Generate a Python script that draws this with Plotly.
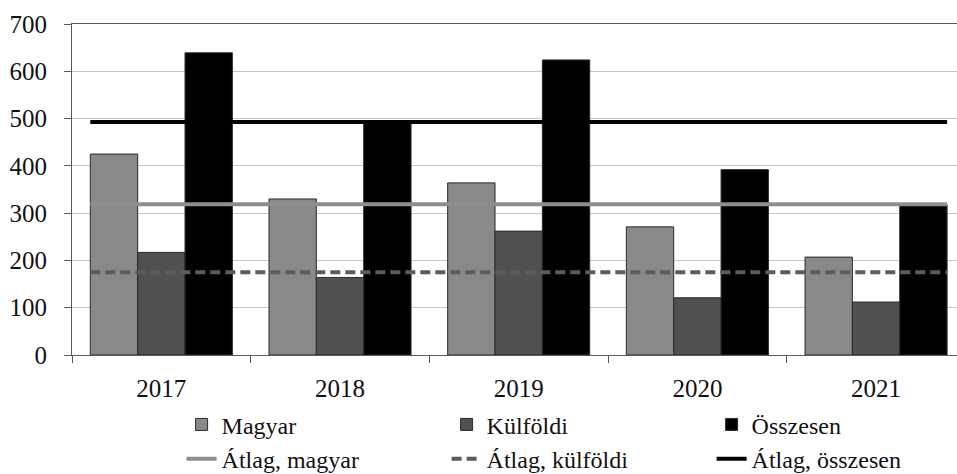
import plotly.graph_objects as go

# Yearly counts by group
years = ["2017", "2018", "2019", "2020", "2021"]
magyar = [425, 330, 364, 271, 207]
kulfoldi = [217, 164, 262, 121, 112]
osszesen = [639, 495, 624, 392, 318]

# Period averages
atlag_magyar = 319
atlag_kulfoldi = 175
atlag_osszesen = 493

y_ticks = [0, 100, 200, 300, 400, 500, 600, 700]

FONT = "Liberation Serif, DejaVu Serif, Times New Roman, serif"
BARGAP = 0.205
AXIS_COLOR = "#5a5a5a"

fig = go.Figure()

bar_series = [
    ("Magyar", magyar, "#898989"),
    ("Külföldi", kulfoldi, "#505050"),
    ("Összesen", osszesen, "#000000"),
]
for name, vals, color in bar_series:
    fig.add_trace(go.Bar(
        x=years, y=vals, name=name,
        marker=dict(color=color, line=dict(color="#2a2a2a", width=1)),
    ))

# Average lines span the full width of the bar groups
half_group = (1 - BARGAP) / 2
line_x = [0 - half_group, len(years) - 1 + half_group]

avg_series = [
    ("Átlag, magyar", atlag_magyar, "#8e8e8e", "solid"),
    ("Átlag, külföldi", atlag_kulfoldi, "#5c5c5c", "10px,5px"),
    ("Átlag, összesen", atlag_osszesen, "#000000", "solid"),
]
for name, val, color, dash in avg_series:
    fig.add_trace(go.Scatter(
        x=line_x, y=[val, val], name=name, mode="lines",
        xaxis="x2",
        line=dict(color=color, width=4, dash=dash),
    ))

x_range = [-0.5, 4.453]

fig.update_layout(
    width=957, height=474,
    margin=dict(l=72, r=0, t=24, b=119, autoexpand=False),
    paper_bgcolor="white", plot_bgcolor="white",
    font=dict(family=FONT, size=24, color="#111111"),
    barmode="group", bargap=BARGAP, bargroupgap=0,
    showlegend=True,
    legend=dict(
        orientation="h", x=0.573, xanchor="center", y=-0.143, yanchor="top",
        entrywidth=220, traceorder="normal",
        font=dict(family=FONT, size=24, color="#111111"),
        itemwidth=30, tracegroupgap=0,
    ),
    xaxis=dict(
        type="category", range=x_range,
        showline=True, linecolor=AXIS_COLOR, linewidth=1, mirror=True,
        ticks="outside", ticklen=7, tickcolor=AXIS_COLOR, tickson="boundaries",
        showgrid=False, tickfont=dict(family=FONT, size=25),
        ticklabelstandoff=11,
    ),
    xaxis2=dict(
        overlaying="x", range=x_range, visible=False, type="linear",
    ),
    yaxis=dict(
        range=[0, 700], tickvals=y_ticks,
        showline=True, linecolor=AXIS_COLOR, linewidth=1,
        ticks="outside", ticklen=7, tickcolor=AXIS_COLOR,
        showgrid=True, gridcolor="#c6c6c6", gridwidth=1,
        zeroline=False, tickfont=dict(family=FONT, size=25),
        ticklabelstandoff=12,
    ),
)

fig.write_html("out.html")
